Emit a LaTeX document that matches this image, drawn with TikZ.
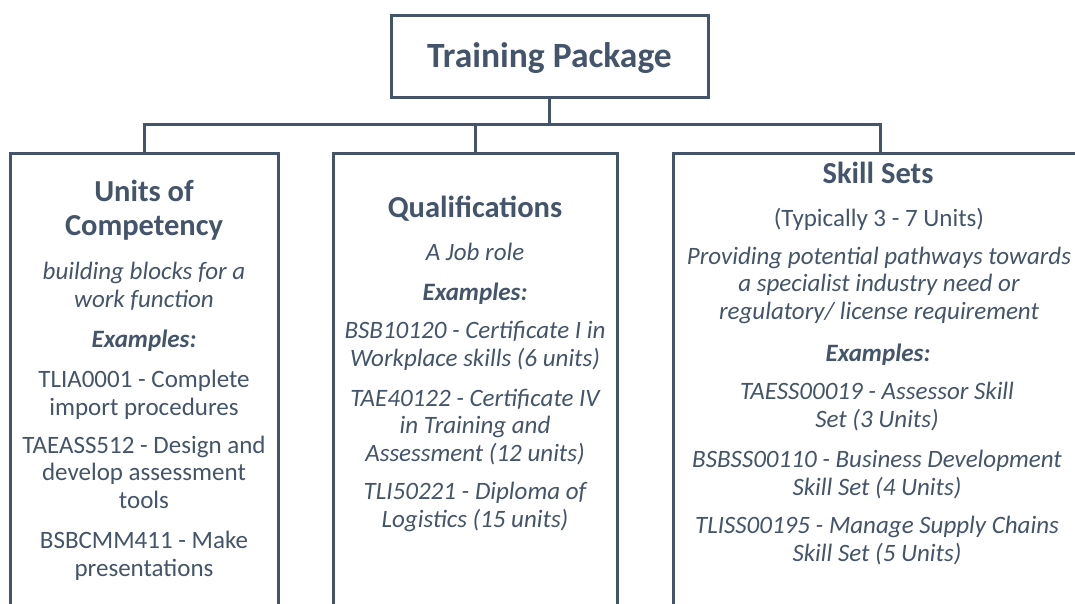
\documentclass[tikz,border=0pt]{standalone}
\usepackage{fontspec}
\setmainfont{Carlito}
\definecolor{slate}{RGB}{68,84,106}

\begin{document}
\begin{tikzpicture}[x=1pt, y=-1pt,
  box/.style={draw=slate, line width=3pt, rectangle, inner sep=0pt},
  link/.style={draw=slate, line width=3pt},
  txt/.style={text=slate, align=center, anchor=base, inner sep=0pt},
  title/.style={txt, font=\fontsize{35.5}{40}\selectfont\bfseries},
  head/.style={txt, font=\fontsize{30.5}{34}\selectfont\bfseries},
  body/.style={txt, font=\fontsize{25}{27.5}\selectfont},
  ital/.style={txt, font=\fontsize{25}{27.5}\selectfont\itshape},
  exhead/.style={txt, font=\fontsize{25}{27.5}\selectfont\bfseries\itshape}]

\useasboundingbox (0,0) rectangle (1075,603);
\fill[white] (0,0) rectangle (1075,603);
\clip (0,0) rectangle (1075,603);

% top box and the three branches (the branch boxes run on below the page)
\node[box, minimum width=317pt, minimum height=82pt] (top) at (549.5,56) {};
\node[box, minimum width=268pt, minimum height=600pt] (uoc)  at (144,453) {};
\node[box, minimum width=284pt, minimum height=600pt] (qual) at (475,453) {};
\node[box, minimum width=414pt, minimum height=600pt] (sks)  at (880,453) {};

\coordinate (hub) at (549.5,124);
\draw[link] (top.south) -- (hub);
\draw[link] (uoc.north) |- (hub);
\draw[link] (qual.north) |- (hub);
\draw[link] (sks.north) |- (hub);

% multi-line texts are placed by the baseline of their last line
\node[title] (toptxt) at (549.5,67) {Training Package};

% Units of Competency
\node[head] (uocH) at (144,235) {Units of\\Competency};
\node[ital] (uocD) at (144,307) {building blocks for a\\work function};
\node[exhead] (uocE) at (144,347) {Examples:};
\node[body] (uocA) at (144,415) {TLIA0001 - Complete\\import procedures};
\node[body] (uocB) at (144,508) {TAEASS512 - Design and\\develop assessment\\tools};
\node[body] (uocC) at (144,576) {BSBCMM411 - Make\\presentations};

% Qualifications
\node[head] (qualH) at (475,217) {Qualifications};
\node[ital] (qualD) at (475,260) {A Job role};
\node[exhead] (qualE) at (475,300) {Examples:};
\node[ital] (qualA) at (475,366) {BSB10120 - Certificate I in\\Workplace skills (6 units)};
\node[ital] (qualB) at (475,461) {TAE40122 - Certificate IV\\in Training and\\Assessment (12 units)};
\node[ital] (qualC) at (475,527) {TLI50221 - Diploma of\\Logistics (15 units)};

% Skill Sets
\node[head] (sksH) at (878,183) {Skill Sets};
\node[body] (sksT) at (879,226) {(Typically 3 - 7 Units)};
\node[ital] (sksD) at (879,319) {Providing potential pathways towards\\a specialist industry need or\\regulatory/ license requirement};
\node[exhead] (sksE) at (878,361) {Examples:};
\node[ital] (sksA) at (877,427) {TAESS00019 - Assessor Skill\\Set (3 Units)};
\node[ital] (sksB) at (877,495) {BSBSS00110 - Business Development\\Skill Set (4 Units)};
\node[ital] (sksC) at (877,561) {TLISS00195 - Manage Supply Chains\\Skill Set (5 Units)};
\end{tikzpicture}
\end{document}
